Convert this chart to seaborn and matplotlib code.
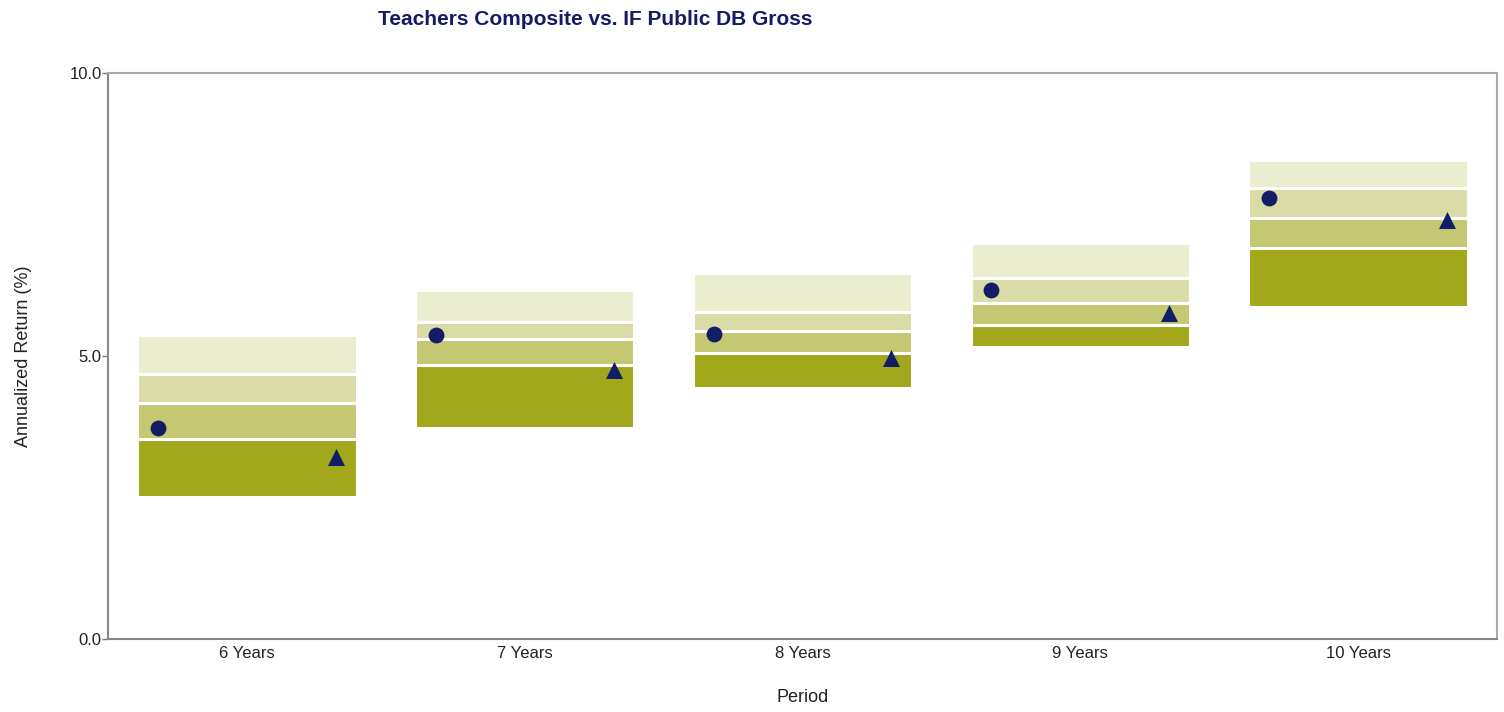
import numpy as np
import pandas as pd
import matplotlib
matplotlib.use("Agg")
import matplotlib.pyplot as plt
import seaborn as sns

# Data
periods = ["6 Years", "7 Years", "8 Years", "9 Years", "10 Years"]
pct_5th = [5.37, 6.17, 6.47, 7.00, 8.46]
pct_25th = [4.68, 5.60, 5.78, 6.38, 7.97]
median = [4.17, 5.30, 5.44, 5.94, 7.44]
pct_75th = [3.53, 4.84, 5.05, 5.55, 6.91]
pct_95th = [2.51, 3.73, 4.43, 5.16, 5.87]
teachers_composite = [3.73, 5.37, 5.39, 6.17, 7.79]
policy_index = [3.22, 4.75, 4.96, 5.76, 7.40]

BAND_COLORS = ["#ebedcf", "#dadca8", "#c4c872", "#a1a81b"]
NAVY = "#131c66"

sns.set_theme(style="white")
plt.rcParams["font.family"] = ["Liberation Sans", "DejaVu Sans"]

df = pd.DataFrame({
    "period": periods,
    "p5": pct_5th, "p25": pct_25th, "p50": median, "p75": pct_75th, "p95": pct_95th,
})

fig = plt.figure(figsize=(15.04, 7.12), dpi=100)
ax = fig.add_axes([0.0718, 0.1025, 0.9235, 0.795])

# layered bars from the top of each band downwards; white bar hides below 95th
for col, color in zip(["p5", "p25", "p50", "p75"], BAND_COLORS):
    sns.barplot(data=df, x="period", y=col, color=color, width=0.79,
                edgecolor="white", linewidth=2.2, saturation=1, ax=ax)
sns.barplot(data=df, x="period", y="p95", color="white", width=0.79,
            edgecolor="white", linewidth=2.2, saturation=1, ax=ax)

pos = np.arange(len(periods))
ax.scatter(pos - 0.32, teachers_composite, marker="o", s=130, color=NAVY, zorder=5, linewidths=0)
ax.scatter(pos + 0.32, policy_index, marker="^", s=150, color=NAVY, zorder=5, linewidths=0)

ax.set_xlim(-0.5, 4.5)
ax.set_ylim(0, 10)
ax.set_yticks([0, 5, 10])
ax.set_yticklabels(["0.0", "5.0", "10.0"])
ax.tick_params(axis="y", left=True, length=4, width=1, color="#777777",
               labelsize=12, pad=0.5, colors="#222222")
ax.tick_params(axis="x", bottom=False, labelsize=12, pad=-1, colors="#222222")
for side in ["left", "bottom"]:
    ax.spines[side].set_color("#888888")
    ax.spines[side].set_linewidth(1.5)
for side in ["top", "right"]:
    ax.spines[side].set_color("#aaaaaa")
    ax.spines[side].set_linewidth(1.5)

ax.set_xlabel("Period", fontsize=13, labelpad=20, color="#222222")
ax.set_ylabel("Annualized Return (%)", fontsize=13, labelpad=27, color="#222222")

fig.text(0.3956, 0.973, "Teachers Composite vs. IF Public DB Gross", ha="center", va="center",
         fontsize=15, fontweight="bold", color=NAVY)

fig.savefig("out.png", dpi=100, facecolor="white")
